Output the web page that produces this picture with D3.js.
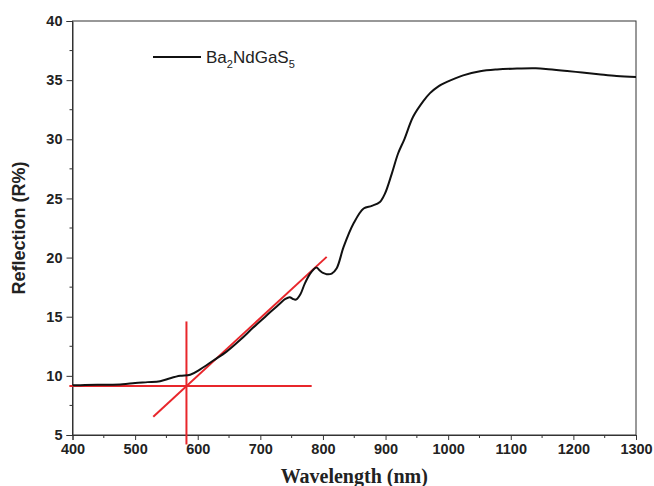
<!DOCTYPE html>
<html>
<head>
<meta charset="utf-8">
<script src="https://cdn.jsdelivr.net/npm/d3@7"></script>
<style>
  body { margin: 0; background: #fff; }
  svg { display: block; }
  .tick text { font-family: "Liberation Sans", Arial, sans-serif; font-weight: bold; font-size: 14.5px; fill: #222; }
</style>
</head>
<body>
<div id="chart"></div>
<script>
// spectrum
const wavelength = [400, 420, 450, 480, 500, 520, 540, 556, 572, 588, 604, 625, 646, 668, 689, 710, 731, 740, 747, 752, 757, 764, 771, 779, 785, 790, 795, 800, 806, 814, 822, 833, 849, 865, 878, 891, 899, 910, 920, 930, 944, 960, 971, 985, 998, 1024, 1051, 1078, 1110, 1140, 1160, 1190, 1214, 1240, 1269, 1300];
const reflection = [9.2, 9.22, 9.25, 9.3, 9.4, 9.47, 9.55, 9.8, 10.0, 10.1, 10.55, 11.3, 12.05, 13.05, 14.1, 15.1, 16.1, 16.5, 16.65, 16.5, 16.45, 16.9, 17.8, 18.6, 19.0, 19.15, 18.9, 18.7, 18.6, 18.65, 19.1, 20.9, 22.9, 24.15, 24.37, 24.7, 25.4, 27.1, 28.8, 30.0, 31.9, 33.2, 33.9, 34.5, 34.85, 35.4, 35.75, 35.9, 35.98, 36.0, 35.93, 35.78, 35.64, 35.5, 35.35, 35.27];

// red construction lines: [x1, y1, x2, y2] in data units
const tangentLine = [529, 6.55, 806, 20.06];
const baseLine = [395, 9.14, 782, 9.14];
const edgeLine = [582, 14.6, 582, 4.2];

const xTicks = [400, 500, 600, 700, 800, 900, 1000, 1100, 1200, 1300];
const yTicks = [5, 10, 15, 20, 25, 30, 35, 40];
const seriesName = "Ba2NdGaS5";

const width = 654, height = 486;
const margin = { top: 21, right: 18, bottom: 51, left: 72.5 };

const svg = d3.select("#chart").append("svg")
  .attr("width", width)
  .attr("height", height);

const x = d3.scaleLinear().domain([400, 1300]).range([margin.left, width - margin.right]);
const y = d3.scaleLinear().domain([5, 40]).range([height - margin.bottom, margin.top]);

// frame
svg.append("rect")
  .attr("x", x(400)).attr("y", y(40))
  .attr("width", x(1300) - x(400)).attr("height", y(5) - y(40))
  .attr("fill", "none").attr("stroke", "#333").attr("stroke-width", 1);

// minor ticks
const minorX = d3.range(450, 1300, 100);
const minorY = d3.range(7.5, 40, 5);
svg.append("g").selectAll("line").data(minorX).enter().append("line")
  .attr("x1", d => x(d)).attr("x2", d => x(d))
  .attr("y1", y(5)).attr("y2", y(5) + 3)
  .attr("stroke", "#333");
svg.append("g").selectAll("line").data(minorY).enter().append("line")
  .attr("y1", d => y(d)).attr("y2", d => y(d))
  .attr("x1", x(400)).attr("x2", x(400) - 3)
  .attr("stroke", "#333");

const xAxis = svg.append("g")
  .attr("transform", `translate(0,${y(5)})`)
  .call(d3.axisBottom(x).tickValues(xTicks).tickSize(5).tickPadding(4).tickFormat(d3.format("d")));
const yAxis = svg.append("g")
  .attr("transform", `translate(${x(400)},0)`)
  .call(d3.axisLeft(y).tickValues(yTicks).tickSize(6).tickPadding(4).tickFormat(d3.format("d")));
[xAxis, yAxis].forEach(a => {
  a.select(".domain").attr("stroke", "#333");
  a.selectAll(".tick line").attr("stroke", "#333");
});

// axis titles
svg.append("text")
  .attr("x", (x(400) + x(1300)) / 2)
  .attr("y", 483)
  .attr("text-anchor", "middle")
  .attr("font-family", "Liberation Serif, Times New Roman, serif")
  .attr("font-weight", "bold")
  .attr("font-size", "20px")
  .attr("fill", "#222")
  .text("Wavelength (nm)");

svg.append("text")
  .attr("transform", `translate(25,${(y(5) + y(40)) / 2}) rotate(-90)`)
  .attr("text-anchor", "middle")
  .attr("font-family", "Liberation Sans, Arial, sans-serif")
  .attr("font-weight", "bold")
  .attr("font-size", "18px")
  .attr("fill", "#222")
  .text("Reflection (R%)");

// red lines
const red = "#e8262b";
[tangentLine, baseLine, edgeLine].forEach(l => {
  svg.append("line")
    .attr("x1", x(l[0])).attr("y1", y(l[1]))
    .attr("x2", x(l[2])).attr("y2", y(l[3]))
    .attr("stroke", red).attr("stroke-width", 2);
});

// spectrum
const pts = wavelength.map((w, i) => [w, reflection[i]]);
svg.append("path")
  .datum(pts)
  .attr("fill", "none")
  .attr("stroke", "#111")
  .attr("stroke-width", 2)
  .attr("d", d3.line().x(d => x(d[0])).y(d => y(d[1])).curve(d3.curveCatmullRom.alpha(0.5)));

// legend
const lg = svg.append("g");
lg.append("line")
  .attr("x1", 153).attr("x2", 201).attr("y1", 57).attr("y2", 57)
  .attr("stroke", "#111").attr("stroke-width", 2);
const lt = lg.append("text")
  .attr("x", 206).attr("y", 63)
  .attr("font-family", "Liberation Sans, Arial, sans-serif")
  .attr("font-size", "17px")
  .attr("fill", "#222");
seriesName.match(/[A-Za-z]+|\d+/g).forEach(part => {
  if (/\d/.test(part)) {
    lt.append("tspan").attr("font-size", "11px").attr("baseline-shift", "-5px").text(part);
  } else {
    lt.append("tspan").text(part);
  }
});
</script>
</body>
</html>
